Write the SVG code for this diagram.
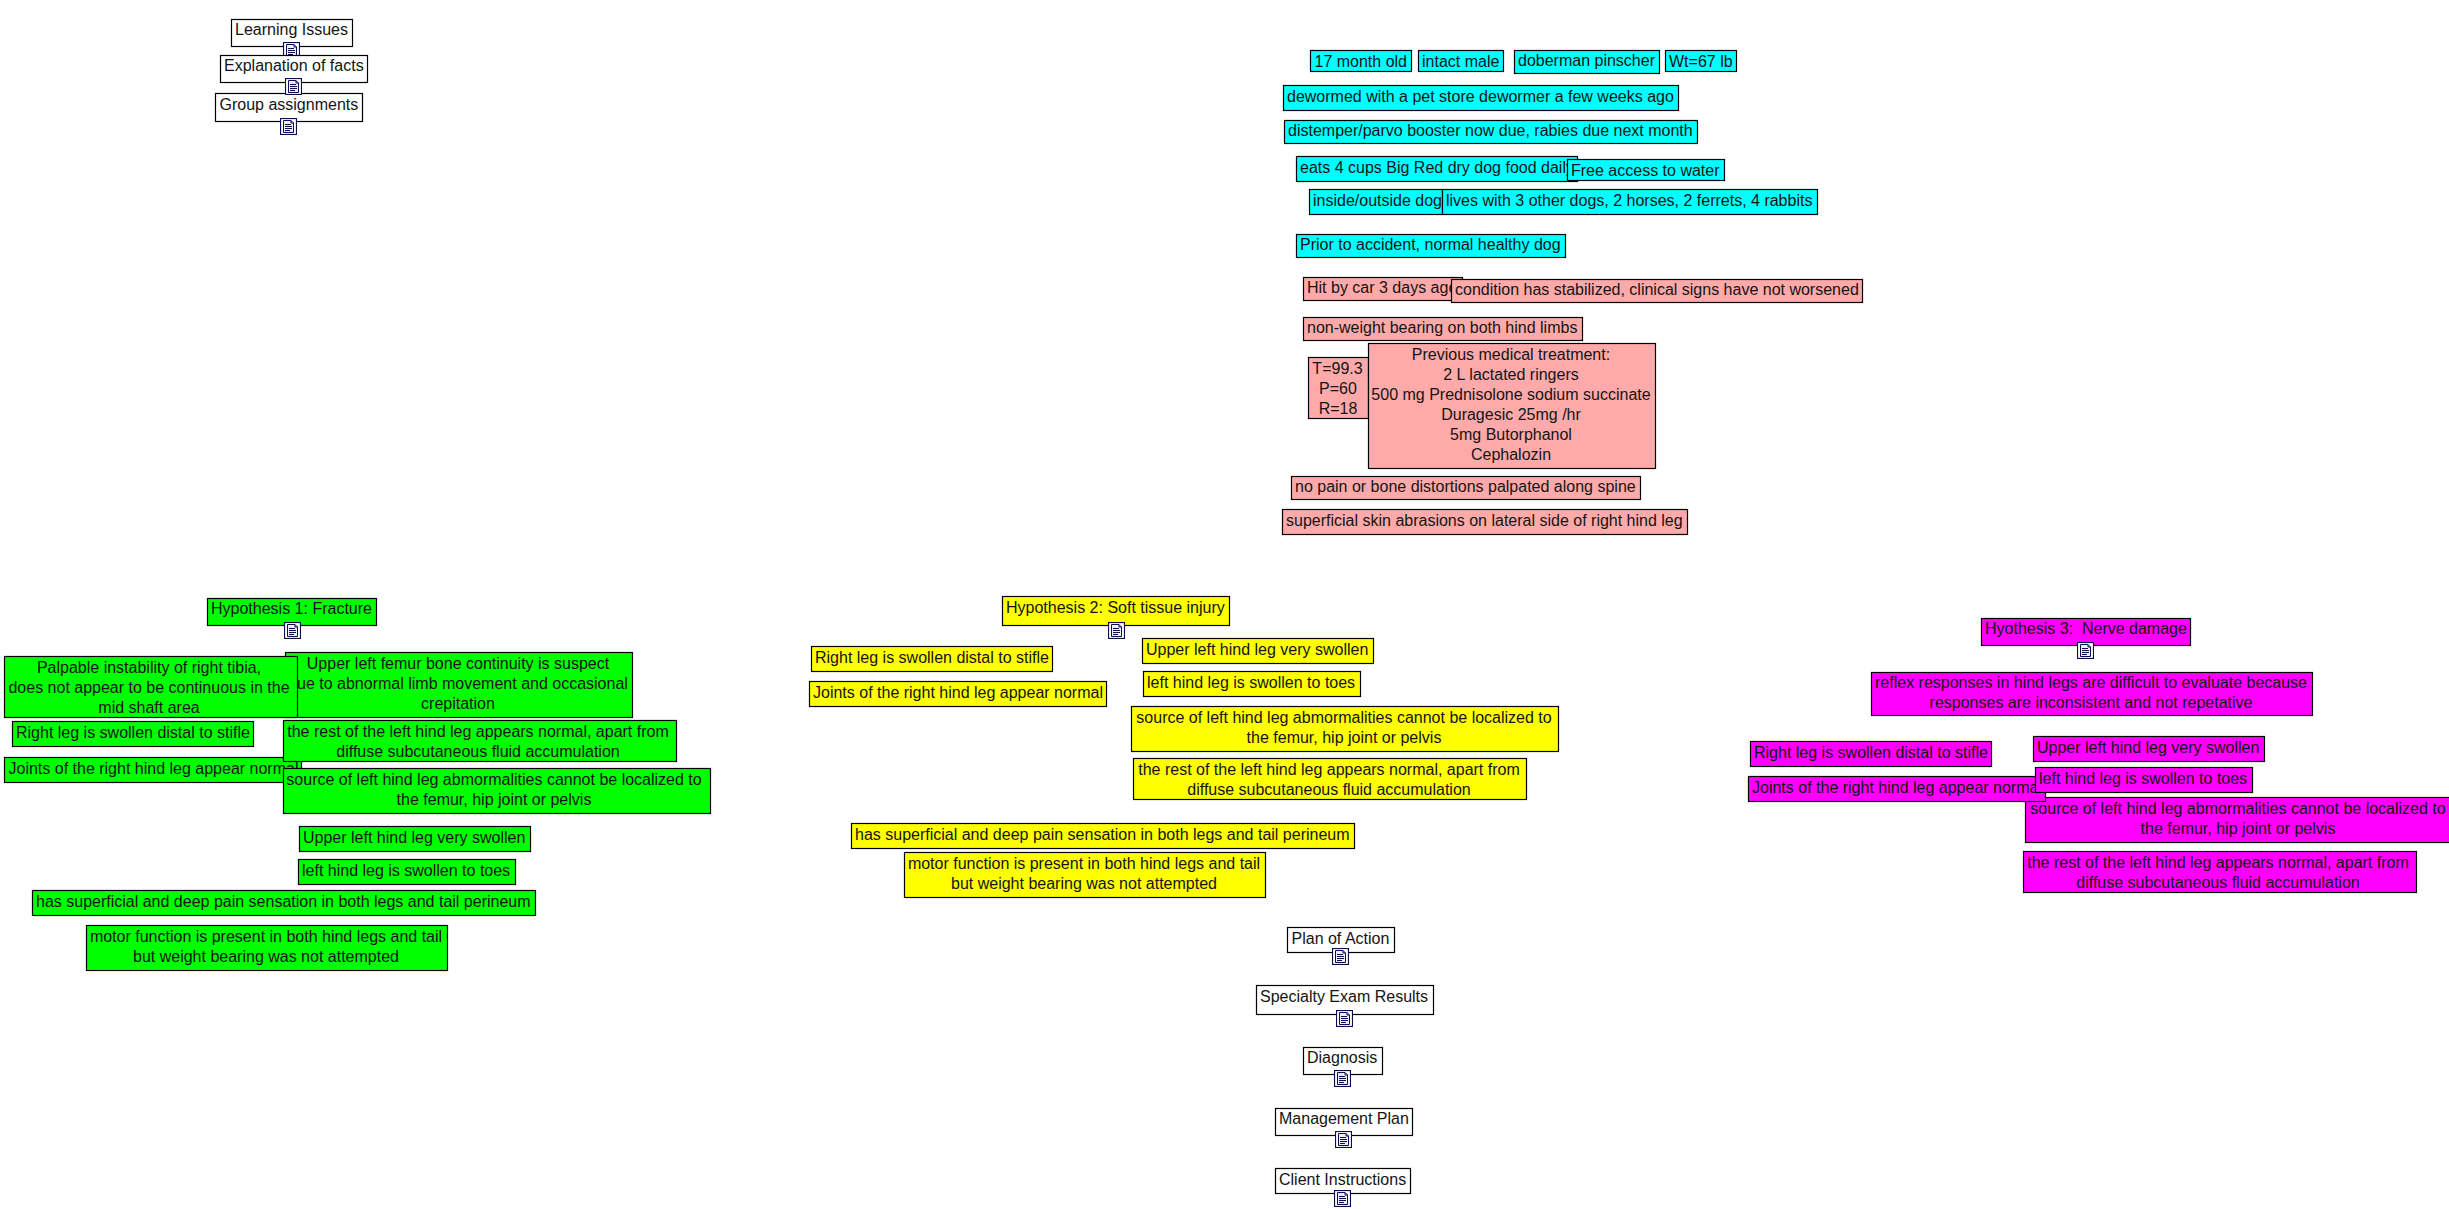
<svg xmlns="http://www.w3.org/2000/svg" width="2449" height="1209" viewBox="0 0 2449 1209">
<style>
text{font-family:"Liberation Sans",Arial,sans-serif;font-size:16px;fill:#141414;white-space:pre}
.m{text-anchor:middle}
rect.b{stroke:#000;stroke-width:1.2}
.w{fill:#fff}.c{fill:#00ffff}.p{fill:#ffaaaa}.g{fill:#00ff00}.y{fill:#ffff00}.f{fill:#ff00ff}
</style>
<defs>
<symbol id="doc" viewBox="0 0 17 17" width="17" height="17">
<rect x="0.5" y="0.5" width="16" height="16" fill="#fff" stroke="#0c0c50" stroke-width="1.2"/>
<path d="M3.5 2.5H11L13.5 5V14.5H3.5Z" fill="#eeeef6" stroke="#0c0c50"/>
<path d="M11 2.5V5H13.5M5 6.5H11M5 8.5H12M5 10.5H12M5 12.5H10" fill="none" stroke="#0c0c50"/>
</symbol>
</defs>
<rect width="2449" height="1209" fill="#fff"/>

<g id="learning-issues"><rect class="b w" x="231.5" y="19.5" width="121" height="27"/><text x="235" y="35">Learning Issues</text><use href="#doc" x="283" y="42"/></g>
<g id="explanation-of-facts"><rect class="b w" x="220.5" y="55.5" width="147" height="27"/><text x="224" y="71">Explanation of facts</text></g>
<g id="group-assignments"><rect class="b w" x="215.5" y="93.5" width="147" height="28"/><text x="219.5" y="110">Group assignments</text><use href="#doc" x="280" y="118"/></g>
<g id="explanation-icon"><use href="#doc" x="285" y="78"/></g>

<g id="age"><rect class="b c" x="1310.5" y="50.5" width="101" height="21"/><text x="1314.5" y="67">17 month old</text></g>
<g id="sex"><rect class="b c" x="1418.5" y="50.5" width="85" height="21"/><text x="1422" y="67">intact male</text></g>
<g id="breed"><rect class="b c" x="1514.5" y="50.5" width="145" height="23"/><text x="1518" y="66">doberman pinscher</text></g>
<g id="weight"><rect class="b c" x="1665.5" y="50.5" width="71" height="21"/><text x="1669" y="67">Wt=67 lb</text></g>
<g id="dewormed"><rect class="b c" x="1283.5" y="85.5" width="395" height="25"/><text x="1287" y="102">dewormed with a pet store dewormer a few weeks ago</text></g>
<g id="booster"><rect class="b c" x="1284.5" y="120.5" width="413" height="23"/><text x="1288" y="136">distemper/parvo booster now due, rabies due next month</text></g>
<g id="diet"><rect class="b c" x="1296.5" y="156.5" width="281" height="25"/><text x="1300" y="173">eats 4 cups Big Red dry dog food daily</text></g>
<g id="water"><rect class="b c" x="1567.5" y="159.5" width="157" height="21"/><text x="1571" y="176">Free access to water</text></g>
<g id="housing"><rect class="b c" x="1309.5" y="189.5" width="133" height="25"/><text x="1313" y="206">inside/outside dog</text></g>
<g id="companions"><rect class="b c" x="1442.5" y="189.5" width="375" height="25"/><text x="1446" y="206">lives with 3 other dogs, 2 horses, 2 ferrets, 4 rabbits</text></g>
<g id="prior"><rect class="b c" x="1296.5" y="234.5" width="269" height="23"/><text x="1300" y="250">Prior to accident, normal healthy dog</text></g>

<g id="hit-by-car"><rect class="b p" x="1303.5" y="277.5" width="159" height="23"/><text x="1307" y="293">Hit by car 3 days ago</text></g>
<g id="condition"><rect class="b p" x="1451.5" y="279.5" width="411" height="23"/><text x="1455" y="295">condition has stabilized, clinical signs have not worsened</text></g>
<g id="non-weight"><rect class="b p" x="1303.5" y="317.5" width="279" height="23"/><text x="1307" y="333">non-weight bearing on both hind limbs</text></g>
<g id="vitals"><rect class="b p" x="1308.5" y="357.5" width="60" height="61"/><text class="m" x="1337.5" y="374">T=99.3</text><text class="m" x="1338" y="394">P=60</text><text class="m" x="1338" y="414">R=18</text></g>
<g id="treatment"><rect class="b p" x="1368.5" y="343.5" width="287" height="125"/><text class="m" x="1511" y="360">Previous medical treatment:</text><text class="m" x="1511" y="380">2 L lactated ringers</text><text class="m" x="1511" y="400">500 mg Prednisolone sodium succinate</text><text class="m" x="1511" y="420">Duragesic 25mg /hr</text><text class="m" x="1511" y="440">5mg Butorphanol</text><text class="m" x="1511" y="460">Cephalozin</text></g>
<g id="spine"><rect class="b p" x="1291.5" y="476.5" width="349" height="23"/><text x="1295" y="492">no pain or bone distortions palpated along spine</text></g>
<g id="abrasions"><rect class="b p" x="1282.5" y="509.5" width="405" height="25"/><text x="1286" y="526">superficial skin abrasions on lateral side of right hind leg</text></g>

<g id="h1"><rect class="b g" x="207.5" y="598.5" width="169" height="27"/><text x="211" y="614">Hypothesis 1: Fracture</text><use href="#doc" x="284" y="622"/></g>
<g id="h1-femur"><rect class="b g" x="285.5" y="652.5" width="347" height="65"/><text class="m" x="458" y="669">Upper left femur bone continuity is suspect</text><text class="m" x="458" y="689">due to abnormal limb movement and occasional</text><text class="m" x="458" y="709">crepitation</text></g>
<g id="h1-tibia"><rect class="b g" x="4.5" y="656.5" width="293" height="61"/><text class="m" x="149" y="673">Palpable instability of right tibia,</text><text class="m" x="149" y="693">does not appear to be continuous in the</text><text class="m" x="149" y="713">mid shaft area</text></g>
<g id="h1-right"><rect class="b g" x="12.5" y="721.5" width="241" height="25"/><text x="16" y="738">Right leg is swollen distal to stifle</text></g>
<g id="h1-joints"><rect class="b g" x="4.5" y="757.5" width="297" height="25"/><text x="8.5" y="774">Joints of the right hind leg appear normal</text></g>
<g id="h1-rest"><rect class="b g" x="283.5" y="720.5" width="393" height="41"/><text class="m" x="478" y="737">the rest of the left hind leg appears normal, apart from</text><text class="m" x="478" y="757">diffuse subcutaneous fluid accumulation</text></g>
<g id="h1-source"><rect class="b g" x="283.5" y="768.5" width="427" height="45"/><text class="m" x="494" y="785">source of left hind leg abmormalities cannot be localized to</text><text class="m" x="494" y="805">the femur, hip joint or pelvis</text></g>
<g id="h1-upper"><rect class="b g" x="299.5" y="826.5" width="231" height="25"/><text x="303" y="843">Upper left hind leg very swollen</text></g>
<g id="h1-left"><rect class="b g" x="298.5" y="859.5" width="217" height="25"/><text x="302" y="876">left hind leg is swollen to toes</text></g>
<g id="h1-pain"><rect class="b g" x="32.5" y="890.5" width="503" height="25"/><text x="36" y="907">has superficial and deep pain sensation in both legs and tail perineum</text></g>
<g id="h1-motor"><rect class="b g" x="86.5" y="925.5" width="361" height="45"/><text class="m" x="266" y="942">motor function is present in both hind legs and tail</text><text class="m" x="266" y="962">but weight bearing was not attempted</text></g>

<g id="h2"><rect class="b y" x="1002.5" y="596.5" width="227" height="29"/><text x="1006" y="613">Hypothesis 2: Soft tissue injury</text><use href="#doc" x="1108" y="622"/></g>
<g id="h2-right"><rect class="b y" x="811.5" y="646.5" width="241" height="25"/><text x="815" y="663">Right leg is swollen distal to stifle</text></g>
<g id="h2-joints"><rect class="b y" x="809.5" y="681.5" width="297" height="25"/><text x="813" y="698">Joints of the right hind leg appear normal</text></g>
<g id="h2-upper"><rect class="b y" x="1142.5" y="638.5" width="231" height="25"/><text x="1146" y="655">Upper left hind leg very swollen</text></g>
<g id="h2-left"><rect class="b y" x="1143.5" y="671.5" width="217" height="25"/><text x="1147" y="688">left hind leg is swollen to toes</text></g>
<g id="h2-source"><rect class="b y" x="1131.5" y="706.5" width="427" height="45"/><text class="m" x="1344" y="723">source of left hind leg abmormalities cannot be localized to</text><text class="m" x="1344" y="743">the femur, hip joint or pelvis</text></g>
<g id="h2-rest"><rect class="b y" x="1133.5" y="758.5" width="393" height="41"/><text class="m" x="1329" y="775">the rest of the left hind leg appears normal, apart from</text><text class="m" x="1329" y="795">diffuse subcutaneous fluid accumulation</text></g>
<g id="h2-pain"><rect class="b y" x="851.5" y="823.5" width="503" height="25"/><text x="855" y="840">has superficial and deep pain sensation in both legs and tail perineum</text></g>
<g id="h2-motor"><rect class="b y" x="904.5" y="852.5" width="361" height="45"/><text class="m" x="1084" y="869">motor function is present in both hind legs and tail</text><text class="m" x="1084" y="889">but weight bearing was not attempted</text></g>

<g id="h3"><rect class="b f" x="1981.5" y="618.5" width="209" height="27"/><text x="1985" y="634">Hyothesis 3:  Nerve damage</text><use href="#doc" x="2077" y="642"/></g>
<g id="h3-reflex"><rect class="b f" x="1871.5" y="672.5" width="441" height="43"/><text class="m" x="2091" y="688">reflex responses in hind legs are difficult to evaluate because</text><text class="m" x="2091" y="708">responses are inconsistent and not repetative</text></g>
<g id="h3-right"><rect class="b f" x="1750.5" y="741.5" width="241" height="25"/><text x="1754" y="758">Right leg is swollen distal to stifle</text></g>
<g id="h3-source"><rect class="b f" x="2025.5" y="797.5" width="430" height="45"/><text class="m" x="2238" y="814">source of left hind leg abmormalities cannot be localized to</text><text class="m" x="2238" y="834">the femur, hip joint or pelvis</text></g>
<g id="h3-joints"><rect class="b f" x="1748.5" y="776.5" width="297" height="25"/><text x="1752" y="793">Joints of the right hind leg appear normal</text></g>
<g id="h3-upper"><rect class="b f" x="2033.5" y="736.5" width="231" height="25"/><text x="2037" y="753">Upper left hind leg very swollen</text></g>
<g id="h3-left"><rect class="b f" x="2035.5" y="767.5" width="217" height="25"/><text x="2039" y="784">left hind leg is swollen to toes</text></g>
<g id="h3-rest"><rect class="b f" x="2023.5" y="851.5" width="393" height="41"/><text class="m" x="2218" y="868">the rest of the left hind leg appears normal, apart from</text><text class="m" x="2218" y="888">diffuse subcutaneous fluid accumulation</text></g>

<g id="plan-of-action"><rect class="b w" x="1287.5" y="927.5" width="107" height="25"/><text x="1291.5" y="944">Plan of Action</text><use href="#doc" x="1332" y="948"/></g>
<g id="specialty-exam"><rect class="b w" x="1256.5" y="985.5" width="177" height="29"/><text x="1260" y="1002">Specialty Exam Results</text><use href="#doc" x="1336" y="1010"/></g>
<g id="diagnosis"><rect class="b w" x="1303.5" y="1047.5" width="79" height="27"/><text x="1307" y="1063">Diagnosis</text><use href="#doc" x="1334" y="1070"/></g>
<g id="management-plan"><rect class="b w" x="1275.5" y="1108.5" width="137" height="27"/><text x="1279" y="1124">Management Plan</text><use href="#doc" x="1335" y="1131"/></g>
<g id="client-instructions"><rect class="b w" x="1275.5" y="1168.5" width="135" height="25"/><text x="1279" y="1185">Client Instructions</text><use href="#doc" x="1334" y="1190"/></g>
</svg>
